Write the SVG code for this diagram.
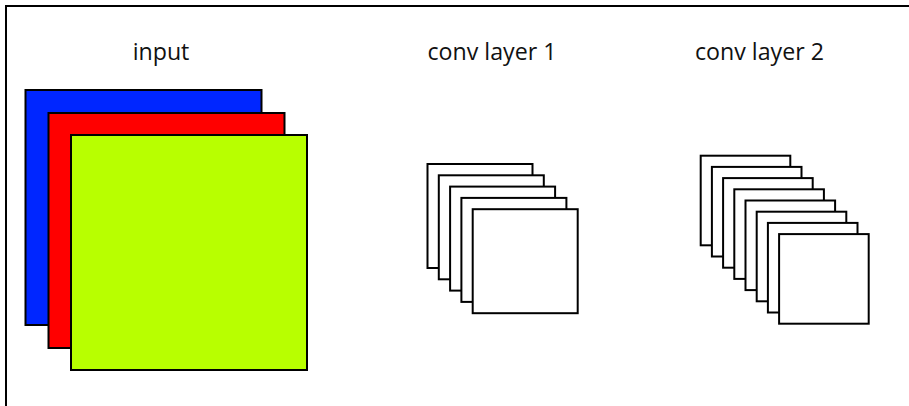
<svg xmlns="http://www.w3.org/2000/svg" width="909" height="406" viewBox="0 0 909 406">
<style>
.lbl{font-family:"Open Sans","Liberation Sans",sans-serif;font-size:23.2px;fill:#111;text-anchor:middle}
.sq{stroke:#000;stroke-width:2}
.w{fill:#fff}
</style>
<rect width="909" height="406" fill="#fff"/>
<g id="frame"><path d="M6,406 V6 H909" fill="none" stroke="#000" stroke-width="2"/></g>
<g id="input">
<text class="lbl" x="161" y="60">input</text>
<rect class="sq" x="25.5" y="90" width="236" height="235" fill="#0026ff"/>
<rect class="sq" x="48.5" y="113" width="236" height="235" fill="#ff0000"/>
<rect class="sq" x="71" y="135" width="236" height="235" fill="#b8ff00"/>
</g>
<g id="conv1">
<text class="lbl" x="492" y="60">conv layer 1</text>
<rect class="sq w" x="427.5" y="164" width="105" height="104"/>
<rect class="sq w" x="438.8" y="175.3" width="105" height="104"/>
<rect class="sq w" x="450.1" y="186.6" width="105" height="104"/>
<rect class="sq w" x="461.4" y="197.9" width="105" height="104"/>
<rect class="sq w" x="472.7" y="209.2" width="105" height="104"/>
</g>
<g id="conv2">
<text class="lbl" x="759.5" y="60">conv layer 2</text>
<rect class="sq w" x="700.7" y="155.7" width="89.6" height="89.6"/>
<rect class="sq w" x="711.9" y="166.9" width="89.6" height="89.6"/>
<rect class="sq w" x="723.1" y="178.1" width="89.6" height="89.6"/>
<rect class="sq w" x="734.3" y="189.3" width="89.6" height="89.6"/>
<rect class="sq w" x="745.5" y="200.5" width="89.6" height="89.6"/>
<rect class="sq w" x="756.7" y="211.7" width="89.6" height="89.6"/>
<rect class="sq w" x="767.9" y="222.9" width="89.6" height="89.6"/>
<rect class="sq w" x="779.1" y="234.1" width="89.6" height="89.6"/>
</g>
<g id="connectors"/>
</svg>
